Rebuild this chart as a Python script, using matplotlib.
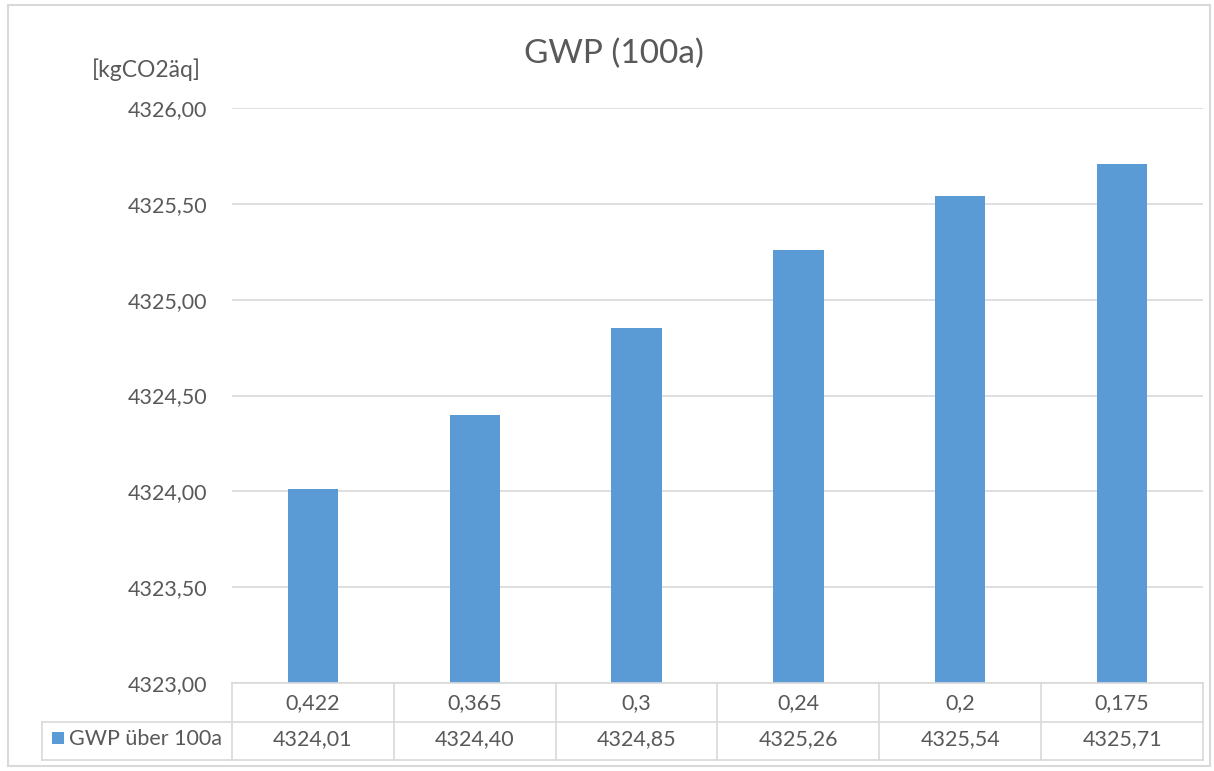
import matplotlib.pyplot as plt
from matplotlib.patches import Rectangle
from matplotlib.transforms import blended_transform_factory
from matplotlib.ticker import FuncFormatter

plt.rcParams['font.family'] = ['Lato', 'DejaVu Sans']

categories = ['0,422', '0,365', '0,3', '0,24', '0,2', '0,175']
gwp = [4324.01, 4324.40, 4324.85, 4325.26, 4325.54, 4325.71]
series_name = 'GWP über 100a'
unit = '[kgCO2äq]'
title = 'GWP (100a)'

W, H = 1214, 771
blue = '#5B9BD5'
text_col = '#595959'
grid_col = '#D9D9D9'
fs = 15.5

fig = plt.figure(figsize=(W / 100, H / 100), dpi=100)
ax = fig.add_axes([232 / W, (H - 683) / H, (1203 - 232) / W, (683 - 108) / H])

x = range(len(gwp))
ax.bar(x, [v - 4323 for v in gwp], bottom=4323, width=0.31, color=blue, zorder=3)

ax.set_xlim(-0.5, len(gwp) - 0.5)
ax.set_ylim(4323, 4326)
ax.set_yticks([4323 + 0.5 * i for i in range(7)])
ax.yaxis.set_major_formatter(FuncFormatter(lambda v, p: f'{v:.2f}'.replace('.', ',')))
ax.tick_params(axis='y', length=0, pad=18, labelsize=fs, labelcolor=text_col)
ax.tick_params(axis='x', length=0, labelbottom=False)
ax.grid(axis='y', color=grid_col, linewidth=1.2, zorder=0)
for s in ax.spines.values():
    s.set_visible(False)

fig.text(614 / W, 1 - 54 / H, title, ha='center', va='center', fontsize=24, color=text_col)
fig.text(146 / W, 1 - 70 / H, unit, ha='center', va='center', fontsize=16.5, color=text_col)

# data table below the axis
tr = blended_transform_factory(ax.transData, fig.transFigure)
y0, y1, y2 = 1 - 683 / H, 1 - 722 / H, 1 - 760 / H
lw = 1.2
fig.add_artist(plt.Line2D([-0.5, len(gwp) - 0.5], [y0, y0], transform=tr, color=grid_col, lw=lw))
for yy in (y1, y2):
    fig.add_artist(plt.Line2D([42 / W, 1203 / W], [yy, yy], transform=fig.transFigure, color=grid_col, lw=lw))
for i in range(len(gwp) + 1):
    fig.add_artist(plt.Line2D([i - 0.5, i - 0.5], [y0, y2], transform=tr, color=grid_col, lw=lw))
fig.add_artist(plt.Line2D([42 / W, 42 / W], [y1, y2], transform=fig.transFigure, color=grid_col, lw=lw))

ty1, ty2 = 1 - 703 / H, 1 - 739 / H
for i, (c, v) in enumerate(zip(categories, gwp)):
    fig.text(i, ty1, c, transform=tr, ha='center', va='center', fontsize=fs, color=text_col)
    fig.text(i, ty2, f'{v:.2f}'.replace('.', ','), transform=tr,
             ha='center', va='center', fontsize=fs, color=text_col)

fig.add_artist(Rectangle((52 / W, 1 - 744 / H), 12 / W, 12 / H, transform=fig.transFigure,
                         facecolor=blue, edgecolor='none'))
fig.text(69 / W, ty2, series_name, ha='left', va='center', fontsize=fs, color=text_col)

# chart border
fig.add_artist(Rectangle((8 / W, 1 - 766 / H), 1202 / W, 761 / H, transform=fig.transFigure,
                         facecolor='none', edgecolor=grid_col, lw=1.5))

fig.savefig('out.png', dpi=100, facecolor='white')
